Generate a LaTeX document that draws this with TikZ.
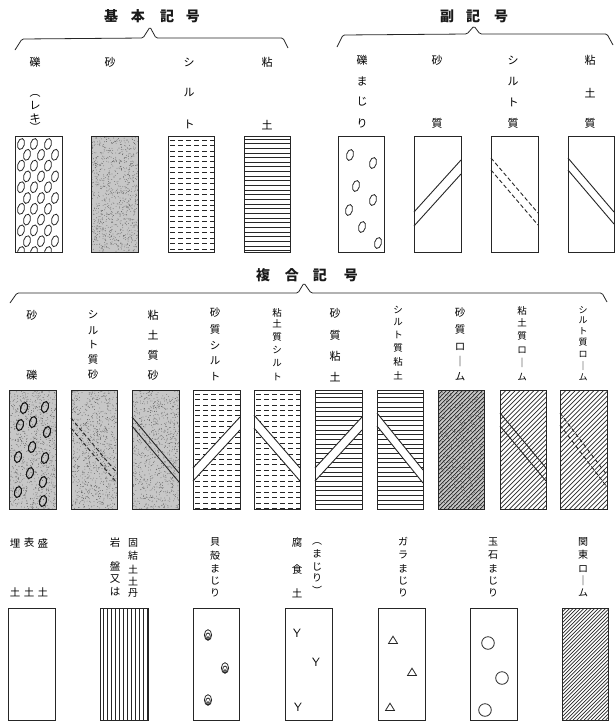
\documentclass[tikz,border=0pt]{standalone}
\usepackage{fontspec}
\newfontfamily\cjk{Noto Sans CJK JP}
\tikzset{
  frame/.style={draw=black!85, line width=0.8pt},
  ch/.style={inner sep=0pt, text=black},
  ttl/.style={inner sep=0pt, text=black!90, font=\cjk\bfseries\fontsize{14}{14}\selectfont},
  bracel/.style={draw=black!85, line width=0.8pt, rounded corners=1.5pt},
  ink/.style={draw=black!85, line width=0.8pt},
  dl/.style={draw=black!85, line width=0.9pt},
  dsh/.style={dash pattern=on 4pt off 2.5pt},
}
% vertical label: [size]{name}{x}{char/y,...}
\newcommand\vlab[4][10.5]{\foreach \c/\yy [count=\k] in {#4} {\node[ch, font=\cjk\fontsize{#1}{#1}\selectfont] (#2-\k) at (#3,\yy) {\c};}}
% patterns, args x0,y0,x1,y1
\newcommand\stip[4]{%
 \begin{scope}
 \clip (#1,#2) rectangle (#3,#4);
 \fill[black!22] (#1,#2) rectangle (#3,#4);
 \foreach \i in {1,...,900} {\fill[black!65] ({#1+rnd*(#3-#1)},{#2+rnd*(#4-#2)}) circle[radius=0.4pt];}
 \end{scope}}
\newcommand\siltp[4]{%
 \begin{scope}
 \clip (#1,#2) rectangle (#3,#4);
 \foreach \k in {0,...,21} {\draw[black!85, line width=0.8pt, dash pattern=on 5pt off 3pt] ({#1+2},{#2+4+5.45*\k}) -- ({#3},{#2+4+5.45*\k});}
 \end{scope}}
\newcommand\clayp[4]{%
 \begin{scope}
 \clip (#1,#2) rectangle (#3,#4);
 \foreach \k in {0,...,25} {\draw[black!85, line width=0.9pt] ({#1},{#2+3+4.65*\k}) -- ({#3},{#2+3+4.65*\k});}
 \end{scope}}
\newcommand\hatchp[5]{%
 \begin{scope}
 \clip (#1,#2) rectangle (#3,#4);
 \foreach \k in {0,...,52} {\draw[black!85, line width=0.7pt] ({#1-122+\k*#5},{#4}) -- ({#1-122+\k*#5+(#4-#2)},{#2});}
 \end{scope}}
\newcommand\pebble[3][]{\draw[ink, rotate around={-15:(#2,#3)}, #1] (#2,#3) ellipse[x radius=3.4pt, y radius=5.6pt];}
\newcommand\dline[6][]{\draw[dl,#1] (#2,#3) -- (#4,#5); \draw[dl,#1] (#2,{#3+#6}) -- (#4,{#5+#6});}
\newcommand\shell[2]{\draw[ink] (#1,#2) ellipse[x radius=3.6pt,y radius=5.3pt];
 \draw[ink] (#1,{#2+1.4}) ellipse[x radius=2.3pt,y radius=3.4pt];
 \fill[black!85] (#1,{#2+2.7}) circle[radius=1.5pt]; \fill[white] (#1,{#2+2.9}) circle[radius=0.6pt];}
\newcommand\tri[2]{\draw[ink] (#1,{#2-3.8}) -- ({#1+4.5},{#2+3.5}) -- ({#1-4.5},{#2+3.5}) -- cycle;}

\begin{document}
\begin{tikzpicture}[x=1pt,y=-1pt]
\pgfmathsetseed{4711}
\useasboundingbox (0,0) rectangle (616,724);
\fill[white] (0,0) rectangle (616,724);

% ---------- titles and braces ----------
\node[ttl] (t-kihon) at (152,16) {基\hspace{13pt}本\hspace{15pt}記\hspace{12pt}号};
\node[ttl] (t-fuku) at (474,16) {副\hspace{12pt}記\hspace{14pt}号};
\node[ttl] (t-fukugo) at (307,275) {複\hspace{15pt}合\hspace{14pt}記\hspace{17pt}号};
\draw[bracel] (15,50) -- (22,39) -- (143,38) -- (150,27) -- (156,38) -- (283,38) -- (288,48);
\draw[bracel] (337,47) -- (343,35) -- (467,34) -- (474,26) -- (480,34) -- (607,34) -- (613,45);
\draw[bracel] (10,303) -- (17,293) -- (298,293) -- (304,283) -- (311,293) -- (602,293) -- (607,302);

% ---------- top labels ----------
\vlab[11]{a1}{35}{礫/62, ︵/96, レ/106, キ/118, ︶/127}
\vlab[11]{a2}{110}{砂/62}
\vlab[11]{a3}{189}{シ/62, ル/93, ト/124}
\vlab[11]{a4}{267}{粘/62, 土/125}
\vlab[11]{a5}{362}{礫/60, ま/81, じ/102, り/123}
\vlab[11]{a6}{437}{砂/60, 質/123}
\vlab[11]{a7}{513}{シ/60, ル/82, ト/102, 質/123}
\vlab[11]{a8}{590}{粘/60, 土/93, 質/123}

% ---------- top boxes ----------
\begin{scope}
\clip (15,136) rectangle (62,252);
\foreach \r in {0,...,10} {
  \pgfmathsetmacro\yy{144+10.8*\r}
  \ifodd\r
    \foreach \xx in {27,41,55} {\pebble{\xx}{\yy}}
  \else
    \foreach \xx in {21,34,48} {\pebble{\xx}{\yy}}
  \fi}
\end{scope}
\draw[frame] (15,136) rectangle (62,252);
\stip{91}{136}{138}{252}
\draw[frame] (91,136) rectangle (138,252);
\siltp{168}{136}{214}{252}
\draw[frame] (168,136) rectangle (214,252);
\clayp{244}{136}{290}{252}
\draw[frame] (244,136) rectangle (290,252);

\draw[frame] (338,136) rectangle (384,252);
\pebble{350}{155}\pebble{373}{163}\pebble{356}{186}\pebble{373}{200}
\pebble{349}{210}\pebble{362}{227}\pebble{378}{243}
\draw[frame] (414,136) rectangle (461,252);
\dline{414}{212}{461}{160}{14}
\draw[frame] (491,136) rectangle (538,252);
\dline[dsh]{491}{158}{538}{213}{12}
\draw[frame] (568,136) rectangle (614,252);
\dline{568}{158}{614}{212}{12}

% ---------- middle labels ----------
\vlab[11]{b1}{32}{砂/315, 礫/375}
\vlab[10.5]{b2}{93}{シ/315, ル/331, ト/345, 質/360, 砂/375}
\vlab[11]{b3}{153}{粘/315, 土/335, 質/355, 砂/375}
\vlab[10.5]{b4}{215}{砂/313, 質/330, シ/346, ル/361, ト/377}
\vlab[9.5]{b5}{277}{粘/313, 土/324, 質/337, シ/350, ル/363, ト/377}
\vlab[11]{b6}{335}{砂/313, 質/335, 粘/356, 土/377}
\vlab[9.5]{b7}{398}{シ/310, ル/322, ト/335, 質/348, 粘/362, 土/376}
\vlab[10.5]{b8}{460}{砂/313, 質/330, ロ/347, ｜/362, ム/377}
\vlab[9.5]{b9}{522}{粘/311, 土/323, 質/336, ロ/350, ｜/363, ム/377}
\vlab[9]{b10}{583}{シ/310, ル/320, ト/331, 質/342, ロ/354, ｜/366, ム/377}

% ---------- middle boxes ----------
\stip{9}{390}{56}{509}
\foreach \px/\py in {24/408,45/407,20/425,33/422,47/432,32/447,18/457,45/458,30/473,43/482,18/492,43/501}
  {\pebble[line width=1.1pt, draw=black!90]{\px}{\py}}
\draw[frame] (9,390) rectangle (56,509);

\stip{71}{390}{117}{509}
\dline[dsh]{71}{418}{117}{473}{10}
\draw[frame] (71,390) rectangle (117,509);

\stip{132}{390}{179}{509}
\dline{132}{417}{179}{473}{9}
\draw[frame] (132,390) rectangle (179,509);

\siltp{193}{390}{240}{509}
\fill[white] (193,468) -- (240,417) -- (240,430) -- (193,481) -- cycle;
\dline{193}{468}{240}{417}{13}
\draw[frame] (193,390) rectangle (240,509);

\siltp{254}{390}{300}{509}
\fill[white] (254,415) -- (300,468) -- (300,481) -- (254,428) -- cycle;
\dline{254}{415}{300}{468}{13}
\draw[frame] (254,390) rectangle (300,509);

\clayp{315}{390}{362}{509}
\fill[white] (315,468) -- (362,417) -- (362,430) -- (315,481) -- cycle;
\dline{315}{468}{362}{417}{13}
\draw[frame] (315,390) rectangle (362,509);

\clayp{377}{390}{423}{509}
\fill[white] (377,413) -- (423,470) -- (423,483) -- (377,426) -- cycle;
\dline{377}{413}{423}{470}{13}
\draw[frame] (377,390) rectangle (423,509);

\stip{438}{390}{484}{509}
\hatchp{438}{390}{484}{509}{4}
\draw[frame] (438,390) rectangle (484,509);

\hatchp{500}{390}{546}{509}{4.7}
\dline{500}{413}{546}{468}{13}
\draw[frame] (500,390) rectangle (546,509);

\hatchp{560}{390}{607}{509}{4.7}
\dline[dsh]{560}{413}{607}{475}{12}
\draw[frame] (560,390) rectangle (607,509);

% ---------- bottom labels ----------
\vlab{c1}{15}{埋/543, 土/592}
\vlab{c2}{29}{表/543, 土/592}
\vlab{c3}{43}{盛/543, 土/592}
\vlab{c4}{115}{岩/543, 盤/566, 又/579, は/592}
\vlab[10]{c5}{133}{固/543, 結/556, 土/569, 土/581, 丹/593}
\vlab[10]{c6}{215}{貝/542, 殻/556, ま/569, じ/581, り/593}
\vlab{c7}{297}{腐/543, 食/569, 土/593}
\vlab[10]{c8}{317}{︵/544, ま/554, じ/567, り/578, ︶/590}
\vlab[10]{c9}{403}{ガ/542, ラ/555, ま/569, じ/581, り/593}
\vlab[10]{c10}{493}{玉/542, 石/555, ま/569, じ/581, り/593}
\vlab[10]{c11}{583}{関/542, 東/555, ロ/569, ｜/581, ム/593}

% ---------- bottom boxes ----------
\draw[frame] (8,608) rectangle (55,720);

\foreach \xx in {103,107,...,147} {\draw[black!85, line width=0.7pt] (\xx,608) -- (\xx,720);}
\draw[frame] (100,608) rectangle (148,720);

\draw[frame] (193,608) rectangle (239,720);
\shell{208}{635}\shell{225}{668}\shell{208}{700}

\draw[frame] (285,608) rectangle (332,720);
\node[ch, font=\sffamily\fontsize{12}{12}\selectfont] (y1) at (297,633) {Y};
\node[ch, font=\sffamily\fontsize{12}{12}\selectfont] (y2) at (316,662) {Y};
\node[ch, font=\sffamily\fontsize{12}{12}\selectfont] (y3) at (298,707) {Y};

\draw[frame] (378,608) rectangle (425,720);
\tri{393}{640}\tri{412}{672}\tri{390}{707}

\draw[frame] (470,608) rectangle (517,720);
\draw[ink] (488,643) circle[radius=6.3pt];
\draw[ink] (502,678) circle[radius=6.3pt];
\draw[ink] (485,710) circle[radius=6.3pt];

\hatchp{562}{608}{608}{720}{3.6}
\draw[frame] (562,608) rectangle (608,720);
\end{tikzpicture}
\end{document}
